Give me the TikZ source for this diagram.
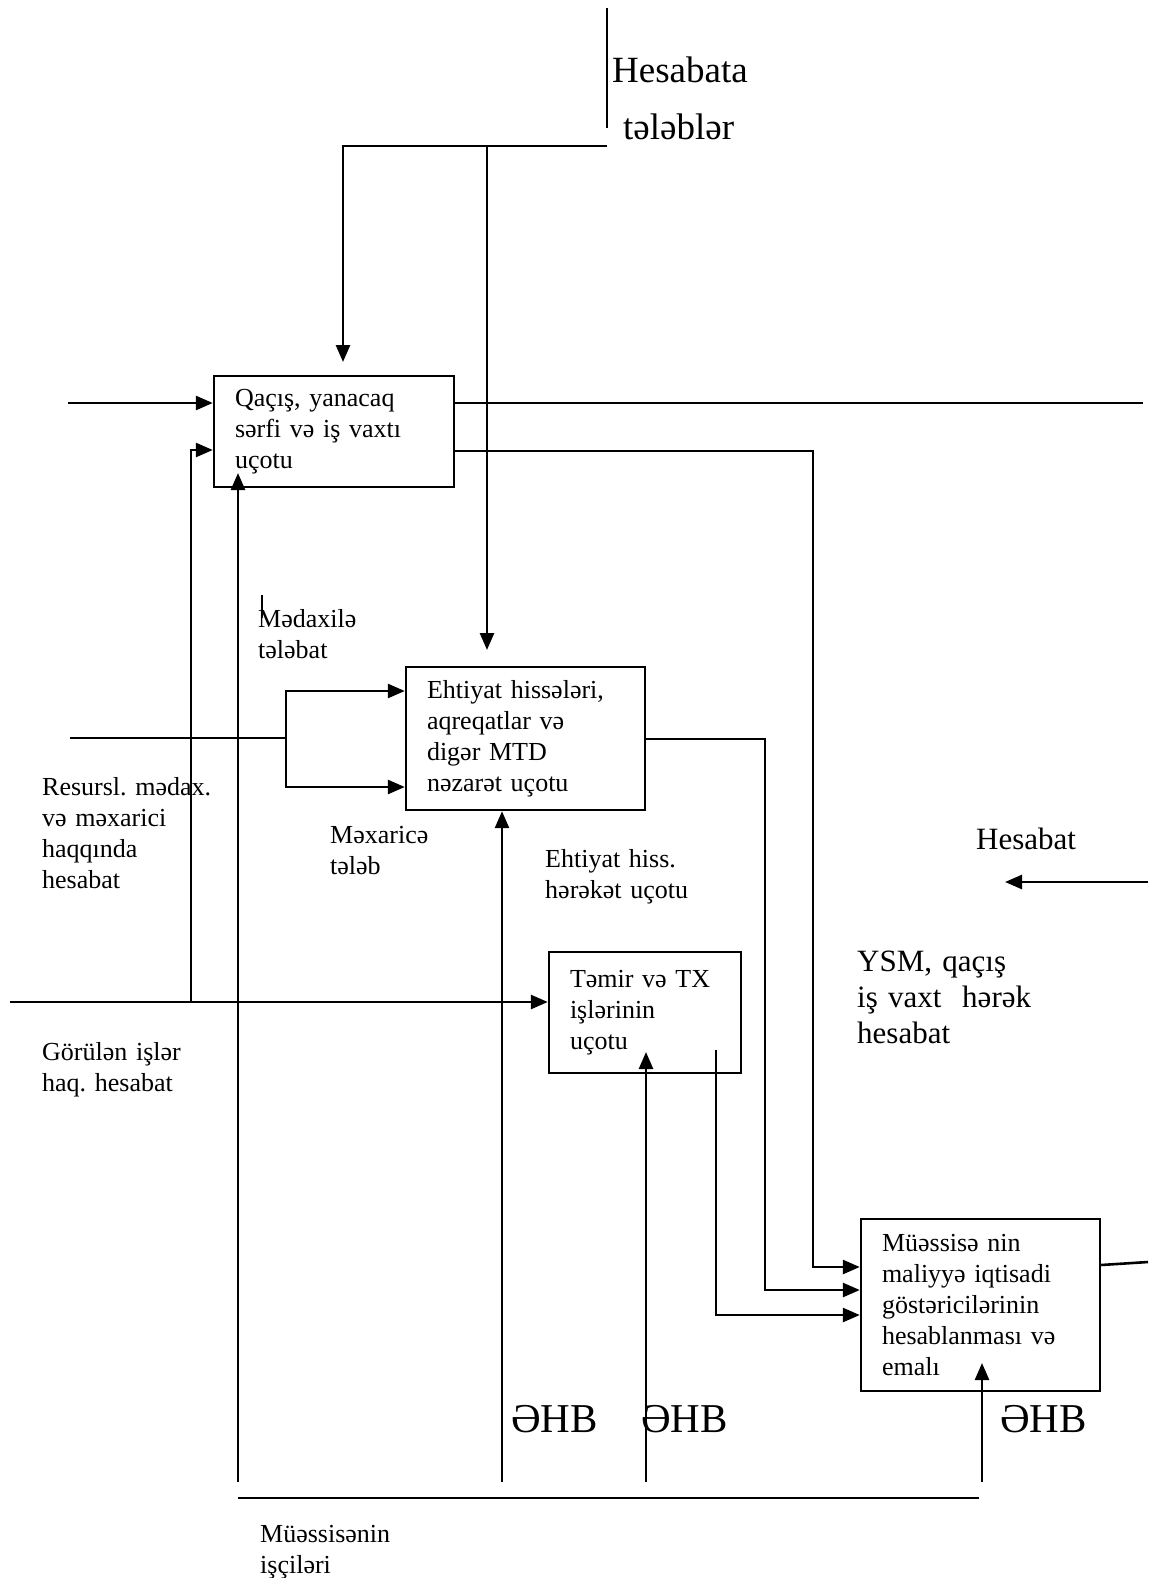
\documentclass[tikz,border=0pt]{standalone}
\usepackage{fontspec}
\setmainfont{Liberation Serif}
\usetikzlibrary{arrows.meta}
\frenchspacing
\begin{document}
\begin{tikzpicture}[x=1pt,y=-1pt,
  ln/.style={line width=2.6pt},
  arr/.style={line width=2.6pt,-{Triangle[length=17pt,width=14pt]}},
  box/.style={draw,line width=2.4pt,align=left,inner xsep=21pt,inner ysep=0pt,
    font=\fontsize{26}{31}\selectfont},
  lbl/.style={inner sep=0pt,anchor=base west,align=left,text width=300pt,
    font=\fontsize{26}{31}\selectfont},
  mid/.style={inner sep=0pt,anchor=base west,align=left,text width=300pt,
    font=\fontsize{31}{36}\selectfont},
  big/.style={inner sep=0pt,anchor=base west,align=left,text width=300pt,
    font=\fontsize{37}{57}\selectfont},
  ehb/.style={inner sep=0pt,anchor=base west,font=\fontsize{41}{48}\selectfont}]
\useasboundingbox (0,0) rectangle (1150,1578);

% boxes
\node[box,minimum width=240pt,minimum height=111pt,text width=198pt] (b1) at (334,431.5)
  {Qaçış, yanacaq\\sərfi və iş vaxtı\\uçotu};
\node[box,minimum width=239pt,minimum height=143pt,text width=197pt] (b2) at (525.5,738.5)
  {Ehtiyat hissələri,\\aqreqatlar və\\digər MTD\\nəzarət uçotu};
\node[box,minimum width=192pt,minimum height=121pt,text width=150pt] (b3) at (645,1012.5)
  {Təmir və TX\\işlərinin\\uçotu};
\node[box,minimum width=239pt,minimum height=172pt,text width=197pt] (b4) at (980.5,1305)
  {Müəssisə nin\\maliyyə iqtisadi\\göstəricilərinin\\hesablanması və\\emalı};

% labels
\node[big] (tHes) at (612,83) {Hesabata};
\node[big] (tTel) at (623,140) {tələblər};
\node[lbl] (tMed) at (258,627) {Mədaxilə\\tələbat};
\node[lbl] (tMex) at (330,843) {Məxaricə\\tələb};
\node[lbl] (tEht) at (545,867) {Ehtiyat hiss.\\hərəkət uçotu};
\node[lbl] (tRes) at (42,795) {Resursl. mədax.\\və məxarici\\haqqında\\hesabat};
\node[lbl] (tGor) at (42,1060) {Görülən işlər\\haq. hesabat};
\node[mid] (tHesabat) at (976,849) {Hesabat};
\node[mid] (tYsm) at (857,971) {YSM, qaçış\\iş vaxt\ \ hərək\\hesabat};
\node[ehb] (e1) at (511,1432) {ƏHB};
\node[ehb] (e2) at (641,1432) {ƏHB};
\node[ehb] (e3) at (1000,1432) {ƏHB};
\node[lbl] (tMus) at (260,1542) {Müəssisənin\\işçiləri};

% coordinates
\coordinate (in1) at (68,403);
\coordinate (g0) at (10,1002);
\coordinate (gj) at (191,1002);
\coordinate (g1) at (191,450);
\coordinate (w1) at (238,1482);
\coordinate (w1t) at (238,473);
\coordinate (h0) at (607,146);
\coordinate (h1) at (343,146);
\coordinate (h1t) at (343,362);
\coordinate (h2) at (487,146);
\coordinate (h2t) at (487,650);
\coordinate (bar0) at (607,8);
\coordinate (bar1) at (607,128);
\coordinate (o1) at (1143,403);
\coordinate (o2) at (813,451);
\coordinate (o2e) at (813,1267);
\coordinate (r0) at (70,738);
\coordinate (f0) at (286,738);
\coordinate (fa) at (286,691);
\coordinate (fb) at (286,787);
\coordinate (w2) at (502,1482);
\coordinate (o3) at (765,739);
\coordinate (o3e) at (765,1290);
\coordinate (w3) at (646,1482);
\coordinate (w3t) at (646,1052);
\coordinate (o4) at (716,1050);
\coordinate (o4e) at (716,1315);
\coordinate (o5s) at (1100,1265);
\coordinate (o5) at (1148,1262);
\coordinate (w4) at (982,1482);
\coordinate (w4t) at (982,1363);
\coordinate (hs0) at (1148,882);
\coordinate (hs1) at (1005,882);
\coordinate (bt0) at (238,1498);
\coordinate (bt1) at (979,1498);
\coordinate (tk0) at (262,595);
\coordinate (tk1) at (262,618);

% connectors
\draw[arr] (in1) -- (in1 -| b1.west);
\draw[arr] (g0) -- (g0 -| b3.west);
\draw[arr] (gj) -- (g1) -- (g1 -| b1.west);
\draw[arr] (w1) -- (w1t);
\draw[arr] (h0) -- (h1) -- (h1t);
\draw[arr] (h2) -- (h2t);
\draw[ln] (bar0) -- (bar1);
\draw[ln] (o1 -| b1.east) -- (o1);
\draw[arr] (o2 -| b1.east) -- (o2) -- (o2e) -- (o2e -| b4.west);
\draw[ln] (r0) -- (f0);
\draw[arr] (f0) |- (fa -| b2.west);
\draw[arr] (f0) |- (fb -| b2.west);
\draw[arr] (w2) -- (w2 |- b2.south);
\draw[arr] (o3 -| b2.east) -- (o3) -- (o3e) -- (o3e -| b4.west);
\draw[arr] (w3) -- (w3t);
\draw[arr] (o4) -- (o4e) -- (o4e -| b4.west);
\draw[ln] (o5s -| b4.east) -- (o5);
\draw[arr] (w4) -- (w4t);
\draw[arr] (hs0) -- (hs1);
\draw[ln] (bt0) -- (bt1);
\draw[line width=1.6pt] (tk0) -- (tk1);
\end{tikzpicture}
\end{document}
